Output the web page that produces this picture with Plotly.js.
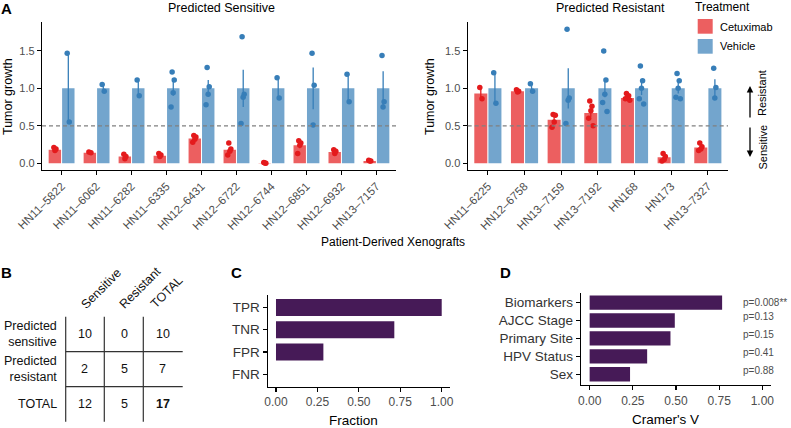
<!DOCTYPE html>
<html><head><meta charset="utf-8">
<script src="https://cdn.plot.ly/plotly-3.0.1.min.js"></script>
<style>html,body{margin:0;padding:0;background:#fff}#chart{width:791px;height:428px}</style>
</head><body><div id="chart"></div>
<script>
// ---------- Panel A: Predicted Sensitive ----------
const sensCategories = ["HN11–5822","HN11–6062","HN11–6282","HN11–6335","HN12–6431","HN12–6722","HN12–6744","HN12–6851","HN12–6932","HN13–7157"];
const sensCtxMean = [0.18, 0.14, 0.09, 0.10, 0.33, 0.18, 0.005, 0.24, 0.15, 0.03];
const sensCtxErr  = [0.01, 0.005, 0.03, 0.01, 0.02, 0.035, 0.003, 0.04, 0.015, 0.005];
const sensVehMean = [1, 1, 1, 1, 1, 1, 1, 1, 1, 1];
const sensVehErr  = [0.46, 0.045, 0.105, 0.10, 0.11, 0.25, 0.135, 0.28, 0.185, 0.23];
const sensCtxPts = [[0.21,0.19,0.17],[0.15,0.14],[0.12,0.09,0.06],[0.13,0.11,0.09],[0.37,0.35,0.32,0.28],[0.27,0.19,0.16,0.11],[0.01,0.0,0.005],[0.30,0.27,0.24,0.13],[0.18,0.16,0.13],[0.04,0.03,0.03]];
const sensVehPts = [[1.47,0.55],[1.05,0.96],[1.11,0.90],[1.22,1.11,0.94,0.75],[1.28,1.02,0.92,0.78],[1.69,0.92,0.88,0.53],[1.14,0.87],[1.47,1.04,0.51],[1.19,0.82],[1.44,0.82,0.75]];

// ---------- Panel A: Predicted Resistant ----------
const resCategories = ["HN11–6225","HN12–6758","HN13–7159","HN13–7192","HN168","HN173","HN13–7327"];
const resCtxMean = [0.93, 0.96, 0.58, 0.67, 0.87, 0.08, 0.21];
const resCtxErr  = [0.075, 0.01, 0.04, 0.05, 0.015, 0.02, 0.02];
const resVehMean = [1, 1, 1, 1, 1, 1, 1];
const resVehErr  = [0.20, 0.05, 0.27, 0.12, 0.09, 0.07, 0.12];
const resCtxPts = [[1.01,0.86],[0.98,0.96,0.95],[0.65,0.64,0.55,0.48],[0.83,0.76,0.70,0.60,0.50],[0.93,0.90,0.88,0.86,0.84],[0.13,0.09,0.05,0.03],[0.27,0.22,0.19,0.17]];
const resVehPts = [[1.21,0.80],[1.06,0.96],[1.79,0.87,0.84,0.53],[1.50,1.11,0.92,0.81,0.69],[1.30,1.10,1.00,0.86,0.79],[1.20,1.10,1.00,0.88,0.86],[1.27,1.01,0.87]];
const treatments = ["Cetuximab","Vehicle"];
const yTicksA = [0, 0.5, 1, 1.5];

// ---------- Panel B: contingency table ----------
const tableColHeaders = ["Sensitive","Resistant","TOTAL"];
const tableRowHeaders = ["Predicted<br>sensitive","Predicted<br>resistant","TOTAL"];
const tableValues = [[10,0,10],[2,5,7],[12,5,17]];

// ---------- Panel C ----------
const rateNames = ["TPR","TNR","FPR","FNR"];
const rateValues = [1.0, 0.714, 0.286, 0.0];

// ---------- Panel D ----------
const featNames = ["Biomarkers","AJCC Stage","Primary Site","HPV Status","Sex"];
const cramerV = [0.767, 0.493, 0.468, 0.333, 0.234];
const pLabels = ["p=0.008**","p=0.13","p=0.15","p=0.41","p=0.88"];
const fracTicks = [0, 0.25, 0.5, 0.75, 1];

// ---------- styling ----------
const W = 791, H = 428;
const X = v => v / W, Y = v => 1 - v / H;
const FONT = "Liberation Sans, Arial, Helvetica, sans-serif";
const RED_BAR = "#EC5F60", BLUE_BAR = "#73A5CD", RED_PT = "#E41A1C", BLUE_PT = "#377EB8";
const PURPLE = "#461A57";
const GREY30 = "#4D4D4D";
const jitter = [-0.03, 0.03, 0.0, -0.06, 0.06];

function barTraces(cats, ctxM, ctxE, vehM, vehE, ctxP, vehP, xa, ya) {
  const idx = cats.map((_, i) => i);
  const t = [];
  t.push({type:"bar", x: idx, y: ctxM, offset:-0.37, width:0.355, xaxis:xa, yaxis:ya,
    marker:{color:RED_BAR, line:{width:0}}, name:treatments[0], hoverinfo:"skip",
    error_y:{type:"data", array:ctxE, visible:true, color:RED_PT, thickness:1.3, width:0}});
  t.push({type:"bar", x: idx, y: vehM, offset:0.015, width:0.355, xaxis:xa, yaxis:ya,
    marker:{color:BLUE_BAR, line:{width:0}}, name:treatments[1], hoverinfo:"skip",
    error_y:{type:"data", array:vehE, visible:true, color:BLUE_PT, thickness:1.3, width:0}});
  const rx = [], ry = [], bx = [], by = [];
  ctxP.forEach((pts, i) => pts.forEach((v, k) => { rx.push(i - 0.19 + jitter[k % 5]); ry.push(v); }));
  vehP.forEach((pts, i) => pts.forEach((v, k) => { bx.push(i + 0.19 + jitter[k % 5]); by.push(v); }));
  t.push({type:"scatter", mode:"markers", x:rx, y:ry, xaxis:xa, yaxis:ya, marker:{color:RED_PT, size:5.5}, hoverinfo:"skip"});
  t.push({type:"scatter", mode:"markers", x:bx, y:by, xaxis:xa, yaxis:ya, marker:{color:BLUE_PT, size:5.5}, hoverinfo:"skip"});
  return t;
}

const traces = [
  ...barTraces(sensCategories, sensCtxMean, sensCtxErr, sensVehMean, sensVehErr, sensCtxPts, sensVehPts, "x", "y"),
  ...barTraces(resCategories, resCtxMean, resCtxErr, resVehMean, resVehErr, resCtxPts, resVehPts, "x2", "y2"),
  {type:"bar", orientation:"h", y: rateNames, x: rateValues, xaxis:"x3", yaxis:"y3", width:0.77,
   marker:{color:PURPLE, line:{width:0}}, hoverinfo:"skip"},
  {type:"bar", orientation:"h", y: featNames, x: cramerV, xaxis:"x4", yaxis:"y4", width:0.8,
   marker:{color:PURPLE, line:{width:0}}, hoverinfo:"skip"}
];

const axBase = {showline:true, linecolor:"#000", linewidth:1.2, ticks:"outside", ticklen:4, tickcolor:"#000",
  tickwidth:1.1, showgrid:false, zeroline:false, automargin:false, fixedrange:true};

const layout = {
  width:W, height:H, margin:{l:0, r:0, t:0, b:0}, paper_bgcolor:"#fff", plot_bgcolor:"rgba(0,0,0,0)",
  font:{family:FONT, color:GREY30}, showlegend:false, barmode:"overlay",
  xaxis: {...axBase, domain:[X(42), X(396)], range:[-0.56, 9.56], anchor:"y",
    tickvals: sensCategories.map((_, i) => i), ticktext: sensCategories, tickangle:-45,
    tickfont:{size:11.5, color:GREY30}},
  yaxis: {...axBase, domain:[Y(170), Y(21.7)], range:[-0.09, 1.89], anchor:"x",
    tickvals:yTicksA, tickformat:".1f", tickfont:{size:11, color:GREY30}},
  xaxis2: {...axBase, domain:[X(467.7), X(728)], range:[-0.55, 6.55], anchor:"y2",
    tickvals: resCategories.map((_, i) => i), ticktext: resCategories, tickangle:-45,
    tickfont:{size:11.5, color:GREY30}},
  yaxis2: {...axBase, domain:[Y(170), Y(21.7)], range:[-0.09, 1.89], anchor:"x2",
    tickvals:yTicksA, tickformat:".1f", tickfont:{size:11, color:GREY30}},
  xaxis3: {...axBase, domain:[X(267.7), X(450)], range:[-0.05, 1.05], anchor:"y3",
    tickvals:fracTicks, tickformat:".2f", tickfont:{size:12, color:GREY30}},
  yaxis3: {...axBase, domain:[Y(386.7), Y(295)], type:"category", categoryorder:"array", categoryarray:rateNames,
    range:[3.56, -0.56], anchor:"x3", tickfont:{size:13.5, color:"#333"}},
  xaxis4: {...axBase, domain:[X(581), X(771)], range:[-0.05, 1.05], anchor:"y4",
    tickvals:fracTicks, tickformat:".2f", tickfont:{size:12, color:GREY30}},
  yaxis4: {...axBase, domain:[Y(385), Y(292.7)], type:"category", categoryorder:"array", categoryarray:featNames,
    range:[4.6, -0.55], anchor:"x4", tickfont:{size:13.5, color:"#333"}},
  shapes: [], annotations: []
};

// dashed 0.5 reference lines
["x","x2"].forEach((xa, i) => layout.shapes.push({type:"line", xref:xa + " domain", x0:0, x1:1,
  yref: i === 0 ? "y" : "y2", y0:0.5, y1:0.5, line:{color:"#808080", width:1.3, dash:"4px,3px"}, layer:"above"}));

const ann = (text, x, y, o = {}) => layout.annotations.push(Object.assign({text, x:X(x), y:Y(y), xref:"paper", yref:"paper",
  showarrow:false, xanchor:"center", yanchor:"middle", font:{family:FONT, size:12, color:"#000"}}, o));

// panel letters
ann("<b>A</b>", 6.5, 8, {font:{family:FONT, size:15, color:"#000"}});
ann("<b>B</b>", 6, 272, {font:{family:FONT, size:15, color:"#000"}});
ann("<b>C</b>", 236.5, 272, {font:{family:FONT, size:15, color:"#000"}});
ann("<b>D</b>", 505, 272, {font:{family:FONT, size:15, color:"#000"}});

// panel A titles
ann("Predicted Sensitive", 221, 8.5, {font:{family:FONT, size:12.5, color:"#000"}});
ann("Predicted Resistant", 610, 8, {font:{family:FONT, size:12.5, color:"#000"}});
ann("Tumor growth", 8, 97, {textangle:-90, font:{family:FONT, size:12.5, color:"#000"}});
ann("Tumor growth", 430, 97, {textangle:-90, font:{family:FONT, size:12.5, color:"#000"}});
ann("Patient-Derived Xenografts", 393, 242, {font:{family:FONT, size:12, color:"#000"}});

// legend
ann("Treatment", 693, 7, {xanchor:"left", font:{family:FONT, size:12, color:"#000"}});
[RED_BAR, BLUE_BAR].forEach((c, i) => {
  layout.shapes.push({type:"rect", xref:"paper", yref:"paper", x0:X(697.7), x1:X(712.7),
    y0:Y(19 + i * 20 + 14.7), y1:Y(19 + i * 20), fillcolor:c, line:{width:0}});
  ann(treatments[i], 718, 26.5 + i * 19.5, {xanchor:"left", font:{family:FONT, size:11, color:"#000"}});
});

// resistant / sensitive arrows
ann("", 750, 86, {showarrow:true, ax:0, ay:33, axref:"pixel", ayref:"pixel", arrowhead:2, arrowsize:1, arrowwidth:1.3, arrowcolor:"#000"});
ann("", 750, 157, {showarrow:true, ax:0, ay:-31, axref:"pixel", ayref:"pixel", arrowhead:2, arrowsize:1, arrowwidth:1.3, arrowcolor:"#000"});
ann("Resistant", 762, 93, {textangle:-90, font:{family:FONT, size:11, color:"#000"}});
ann("Sensitive", 762, 147.5, {textangle:-90, font:{family:FONT, size:11, color:"#000"}});

// panel B table
const colX = [84.5, 124, 162.5];
const rowY = [334, 369, 404];
const headerPos = [[101, 289], [140, 288], [166.7, 291.7]];
tableColHeaders.forEach((h, j) => ann(h, headerPos[j][0], headerPos[j][1], {textangle:-45, font:{family:FONT, size:12.5, color:"#111"}}));
tableRowHeaders.forEach((h, i) => ann(h, 59, rowY[i], {xanchor:"right", align:"right", font:{family:FONT, size:12.5, color:"#111"}}));
tableValues.forEach((row, i) => row.forEach((v, j) => {
  const bold = (i === tableValues.length - 1 && j === row.length - 1);
  ann(bold ? "<b>" + v + "</b>" : String(v), colX[j], rowY[i], {font:{family:FONT, size:12.5, color:"#111"}});
}));
[65.7, 104.3, 143.3].forEach(x => layout.shapes.push({type:"line", xref:"paper", yref:"paper",
  x0:X(x), x1:X(x), y0:Y(316.7), y1:Y(421.7), line:{color:"#333", width:1.2}}));
[351.7, 386.7].forEach(y => layout.shapes.push({type:"line", xref:"paper", yref:"paper",
  x0:X(65.7), x1:X(182.7), y0:Y(y), y1:Y(y), line:{color:"#333", width:1.2}}));

// panel C / D axis titles
ann("Fraction", 353, 420, {font:{family:FONT, size:13.5, color:"#000"}});
ann("Cramer's V", 665, 419.5, {font:{family:FONT, size:13.5, color:"#000"}});

// p-values
pLabels.forEach((p, i) => layout.annotations.push({text:p, xref:"paper", yref:"y4", x:X(740.7), y:featNames[i],
  yshift: i === 0 ? 0 : 4, showarrow:false, xanchor:"left", yanchor:"middle", font:{family:FONT, size:10, color:GREY30}}));

Plotly.newPlot("chart", traces, layout, {displayModeBar:false, staticPlot:true});
</script></body></html>
